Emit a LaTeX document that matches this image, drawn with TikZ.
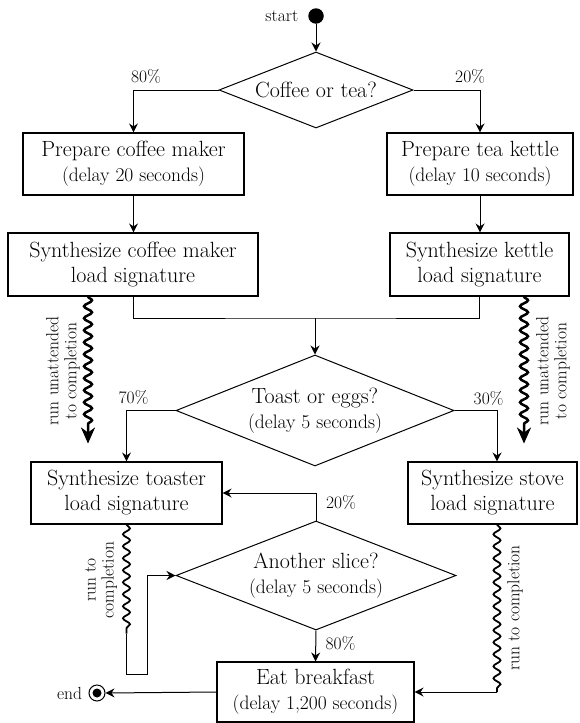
\documentclass[tikz,border=0pt]{standalone}
\usetikzlibrary{shapes.geometric,arrows.meta,decorations.pathmorphing}
\newcommand\fmain{\fontsize{22}{25}\selectfont}
\newcommand\fsub{\fontsize{19.5}{24}\selectfont}
\newcommand\flab{\fontsize{17.5}{18}\selectfont}
\begin{document}
\begin{tikzpicture}[x=1pt,y=-1pt,
  line width=1pt,
  arr/.style={-{Stealth[length=9pt,width=9pt,inset=3pt]}},
  box/.style={draw, line width=1.1pt, inner sep=0pt, align=center, font=\fmain},
  dia/.style={draw, diamond, line width=1pt, inner sep=0pt},
  dtext/.style={align=center, font=\fmain, inner sep=0pt},
  lab/.style={font=\flab, inner sep=0pt},
  bigwave/.style={line width=2.5pt, decorate, decoration={snake, amplitude=4pt, segment length=12pt, post length=14pt}, -{Stealth[length=16pt,width=14pt,inset=5pt]}},
  wave/.style={line width=1.8pt, decorate, decoration={snake, amplitude=3.5pt, segment length=12pt}},
]
\useasboundingbox (0,0) rectangle (580,723);

\node[circle, fill, minimum size=15.5pt, inner sep=0pt] (start) at (316,16) {};
\node[lab, anchor=east] (startl) at ([xshift=-9pt]start.west) {start};
\node[dia, minimum width=194pt, minimum height=76pt] (d1) at (316,90) {};
\node[dtext] (d1t) at (d1.center) {Coffee or tea?};

\node[box, minimum width=221pt, minimum height=62pt] (b1) at (133.5,164) {Prepare coffee maker\\{\fsub (delay 20 seconds)}};
\node[box, minimum width=186pt, minimum height=62pt] (b2) at (480,164) {Prepare tea kettle\\{\fsub (delay 10 seconds)}};
\node[box, minimum width=250pt, minimum height=63pt] (b3) at (133,264.5) {Synthesize coffee maker\\load signature};
\node[box, minimum width=179pt, minimum height=63pt] (b4) at (479.5,264.5) {Synthesize kettle\\load signature};

\node[dia, minimum width=278pt, minimum height=111pt] (d2) at (315,410.5) {};
\node[dtext] (d2t) at (d2.center) {Toast or eggs?\\{\fsub (delay 5 seconds)}};

\node[box, minimum width=191pt, minimum height=62pt] (b5) at (126.5,493) {Synthesize toaster\\load signature};
\node[box, minimum width=169pt, minimum height=62pt] (b6) at (492.5,493) {Synthesize stove\\load signature};

\node[dia, minimum width=280pt, minimum height=109pt] (d3) at (316,575.5) {};
\node[dtext] (d3t) at (d3.center) {Another slice?\\{\fsub (delay 5 seconds)}};

\node[box, minimum width=197pt, minimum height=60pt] (b7) at (315.5,692) {Eat breakfast\\{\fsub (delay 1,200 seconds)}};

\node[circle, draw, minimum size=16pt, inner sep=0pt,
  path picture={\fill (path picture bounding box.center) circle (4.5pt);}] (end) at (97,693) {};
\node[lab, anchor=east] (endl) at ([xshift=-6pt]end.west) {end};

% connectors
\draw[arr] (start) -- (d1.north);
\draw[arr] (d1.west) -| (b1.north);
\draw[arr] (d1.east) -| (b2.north);
\draw[arr] (b1.south) -- (b1.south |- b3.north);
\draw[arr] (b2.south) -- (b2.south |- b4.north);
\coordinate (j) at (315,318);
\draw (b3.south) |- (j) -| (b4.south);
\draw[arr] (j) -- (d2.north);
\draw[arr] (d2.west) -| (b5.north);
\draw[arr] (d2.east) -| ([xshift=4.5pt]b6.north);
\draw[bigwave] ([xshift=-45pt]b3.south) -- ++(0,147);
\draw[bigwave] ([xshift=44.5pt]b4.south) -- ++(0,147);
\draw[arr] (d3.north) |- (b5.east);
\draw[wave] (b5.south) -- ++(0,109) coordinate (tw);
\coordinate (tl) at (147,674);
\draw[arr] (tw) |- (tl) |- (d3.west);
\draw[wave] ([xshift=4.5pt]b6.south) -- ([xshift=4.5pt]b6.south |- b7.east) coordinate (sw);
\draw[arr] (sw) -- (b7.east);
\draw[arr] (b7.west) -- (end.east);
\draw[arr] (d3.south) -- (b7.north);

% labels
\node[lab] (p1) at (146,76) {80\%};
\node[lab] (p2) at (470,76) {20\%};
\node[lab] (p3) at (133.5,397) {70\%};
\node[lab] (p4) at (488.5,398) {30\%};
\node[lab] (p5) at (341,502) {20\%};
\node[lab] (p6) at (340.5,643) {80\%};
\node[lab, rotate=90, align=center] (w1) at (63,371) {run unattended\\to completion};
\node[lab, rotate=90, align=center] (w2) at (553,371) {run unattended\\to completion};
\node[lab, rotate=90, align=center] (w3) at (101,580) {run to\\completion};
\node[lab, rotate=90] (w4) at (515,608) {run to completion};
\end{tikzpicture}
\end{document}
